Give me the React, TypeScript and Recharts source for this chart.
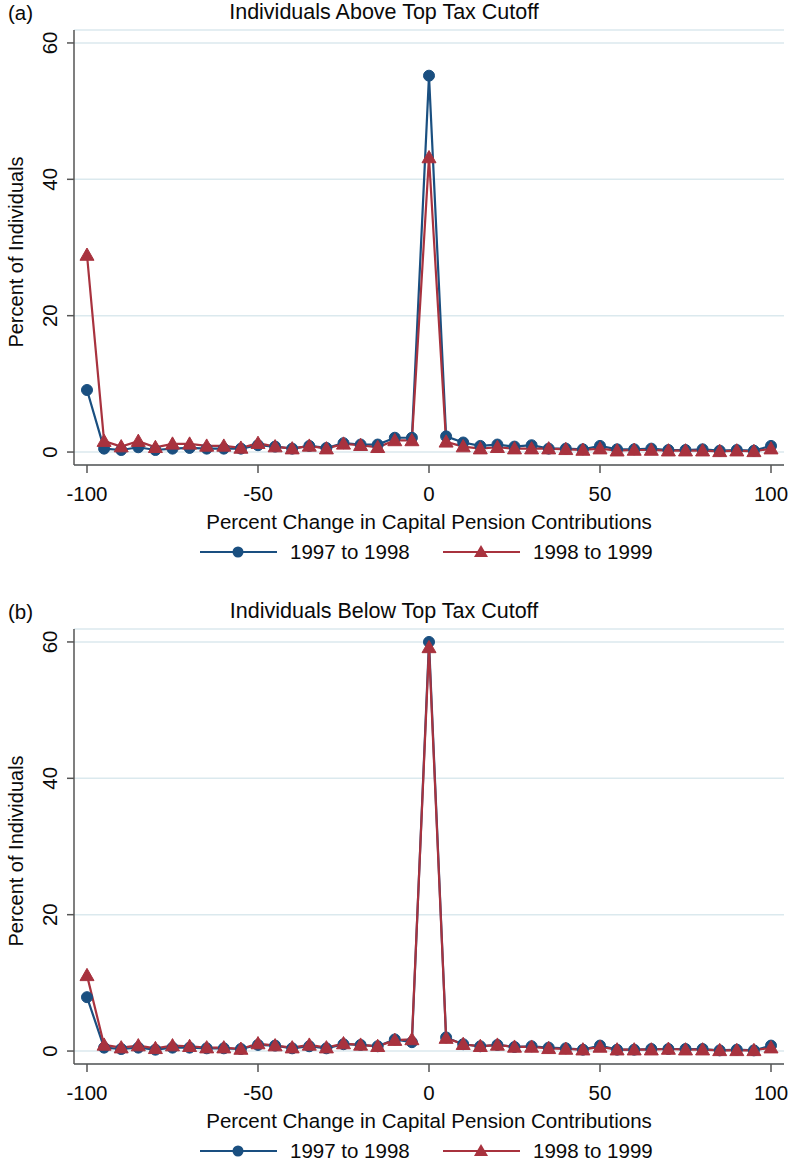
import React from "react";
import { LineChart, Line, XAxis, YAxis, CartesianGrid, Legend } from "recharts";

const xs = [-100,-95,-90,-85,-80,-75,-70,-65,-60,-55,-50,-45,-40,-35,-30,-25,-20,-15,-10,-5,0,5,10,15,20,25,30,35,40,45,50,55,60,65,70,75,80,85,90,95,100];

const aBlue = [9.1,0.5,0.3,0.7,0.3,0.5,0.6,0.5,0.5,0.5,1.0,0.8,0.5,0.9,0.6,1.3,1.1,1.1,2.1,2.1,55.2,2.3,1.4,0.9,1.1,0.8,1.0,0.5,0.5,0.4,0.9,0.4,0.4,0.5,0.3,0.3,0.4,0.2,0.3,0.2,0.9];
const aRed = [28.9,1.6,0.8,1.6,0.7,1.2,1.2,0.9,0.9,0.6,1.3,0.8,0.5,0.9,0.5,1.2,1.0,0.7,1.7,1.7,43.2,1.5,0.8,0.5,0.7,0.5,0.5,0.5,0.4,0.3,0.5,0.2,0.3,0.3,0.2,0.2,0.2,0.1,0.2,0.1,0.5];
const bBlue = [7.9,0.5,0.3,0.5,0.2,0.5,0.5,0.4,0.4,0.3,0.9,0.8,0.4,0.7,0.4,1.0,0.9,0.7,1.7,1.3,60.0,2.0,1.0,0.7,0.9,0.6,0.7,0.5,0.4,0.2,0.8,0.2,0.2,0.3,0.3,0.3,0.3,0.1,0.2,0.1,0.8];
const bRed = [11.1,0.9,0.5,0.8,0.4,0.8,0.7,0.5,0.5,0.3,1.1,0.8,0.5,0.9,0.5,1.1,0.9,0.7,1.6,1.7,59.2,1.9,1.0,0.7,0.9,0.6,0.6,0.4,0.3,0.2,0.6,0.2,0.2,0.2,0.3,0.2,0.2,0.1,0.1,0.1,0.5];

const xTicks = [-100, -50, 0, 50, 100];
const yTicks = [0, 20, 40, 60];
const seriesNames = ["1997 to 1998", "1998 to 1999"];
const panelLabels = ["(a)", "(b)"];
const panelTitles = ["Individuals Above Top Tax Cutoff", "Individuals Below Top Tax Cutoff"];
const xTitle = "Percent Change in Capital Pension Contributions";
const yTitle = "Percent of Individuals";

const BLUE = "#1a4f80";
const RED = "#a8323e";
const FONT = "'Liberation Sans', Arial, Helvetica, sans-serif";
const TXT = "#0a0a0a";

const Circle = (props: any) => {
  const { cx, cy, index } = props;
  if (cx == null || cy == null) return <g key={"c" + index} />;
  return <circle key={"c" + index} cx={cx} cy={cy} r={5.5} fill={BLUE} stroke={BLUE} />;
};

const Tri = (props: any) => {
  const { cx, cy, index } = props;
  if (cx == null || cy == null) return <g key={"t" + index} />;
  const s = 7;
  return (
    <polygon
      key={"t" + index}
      points={`${cx},${cy - s} ${cx - s},${cy + s * 0.75} ${cx + s},${cy + s * 0.75}`}
      fill={RED}
      stroke={RED}
    />
  );
};

const YTick = (props: any) => {
  const { y, payload } = props;
  return (
    <text
      x={57}
      y={y}
      transform={`rotate(-90, 57, ${y})`}
      textAnchor="middle"
      fontSize={20.5}
      fontFamily={FONT}
      fill={TXT}
    >
      {payload.value}
    </text>
  );
};

const LegendContent = () => (
  <svg width={794} height={24} style={{ display: "block" }}>
    <line x1={200} y1={12} x2={277} y2={12} stroke={BLUE} strokeWidth={2} />
    <circle cx={238} cy={12} r={5.5} fill={BLUE} />
    <line x1={443} y1={12} x2={520} y2={12} stroke={RED} strokeWidth={2} />
    <polygon points={`481,5 474,17 488,17`} fill={RED} />
    <text x={290} y={19} fontSize={20.5} fontFamily={FONT} fill={TXT}>{seriesNames[0]}</text>
    <text x={533} y={19} fontSize={20.5} fontFamily={FONT} fill={TXT}>{seriesNames[1]}</text>
  </svg>
);

function Panel({ idx, blue, red, top }: { idx: number; blue: number[]; red: number[]; top: number }) {
  const data = xs.map((x, i) => ({ x, blue: blue[i], red: red[i] }));
  return (
    <div style={{ position: "absolute", left: 0, top, width: 794, height: 580 }}>
      <div style={{ position: "absolute", left: 8, top: 1, fontFamily: FONT, fontSize: 20.5, color: TXT }}>
        {panelLabels[idx]}
      </div>
      <div style={{ position: "absolute", left: 0, width: 768, top: 0, textAlign: "center", fontFamily: FONT, fontSize: 21.5, color: TXT }}>
        {panelTitles[idx]}
      </div>
      <div
        style={{
          position: "absolute",
          left: 16,
          top: 252,
          transform: "translate(-50%, -50%) rotate(-90deg)",
          whiteSpace: "nowrap",
          fontFamily: FONT,
          fontSize: 20,
          color: TXT,
        }}
      >
        {yTitle}
      </div>
      <div style={{ position: "absolute", left: 0, width: 858, top: 510, textAlign: "center", fontFamily: FONT, fontSize: 20.5, color: TXT }}>
        {xTitle}
      </div>
      <LineChart width={794} height={580} data={data} margin={{ top: 30, right: 10, bottom: 0, left: 0 }}>
        <CartesianGrid horizontal={true} vertical={false} stroke="#dbe9ee" strokeWidth={1.5} />
        <XAxis
          type="number"
          dataKey="x"
          domain={[-103.8, 103.8]}
          ticks={xTicks}
          allowDataOverflow
          height={91}
          axisLine={{ stroke: "#555", strokeWidth: 1.5 }}
          tickLine={{ stroke: "#555", strokeWidth: 1.5 }}
          tickSize={8}
          tick={{ fontSize: 20.5, fontFamily: FONT, fill: TXT }}
          tickMargin={13}
        />
        <YAxis
          type="number"
          domain={[-1.9, 61.9]}
          ticks={yTicks}
          allowDataOverflow
          width={74}
          axisLine={{ stroke: "#555", strokeWidth: 1.5 }}
          tickLine={{ stroke: "#555", strokeWidth: 1.5 }}
          tickSize={7}
          tick={<YTick />}
        />
        <Legend
          verticalAlign="bottom"
          height={24}
          content={<LegendContent />}
          wrapperStyle={{ position: "absolute", left: 0, top: 540, width: 794, height: 24 }}
        />
        <Line
          type="linear"
          dataKey="blue"
          stroke={BLUE}
          strokeWidth={2.2}
          dot={<Circle />}
          activeDot={false}
          isAnimationActive={false}
        />
        <Line
          type="linear"
          dataKey="red"
          stroke={RED}
          strokeWidth={2.2}
          dot={<Tri />}
          activeDot={false}
          isAnimationActive={false}
        />
      </LineChart>
    </div>
  );
}

export default function App() {
  return (
    <div style={{ position: "absolute", left: 0, top: 0, width: 794, height: 1164, background: "#fff" }}>
      <Panel idx={0} blue={aBlue} red={aRed} top={0} />
      <Panel idx={1} blue={bBlue} red={bRed} top={599} />
    </div>
  );
}
